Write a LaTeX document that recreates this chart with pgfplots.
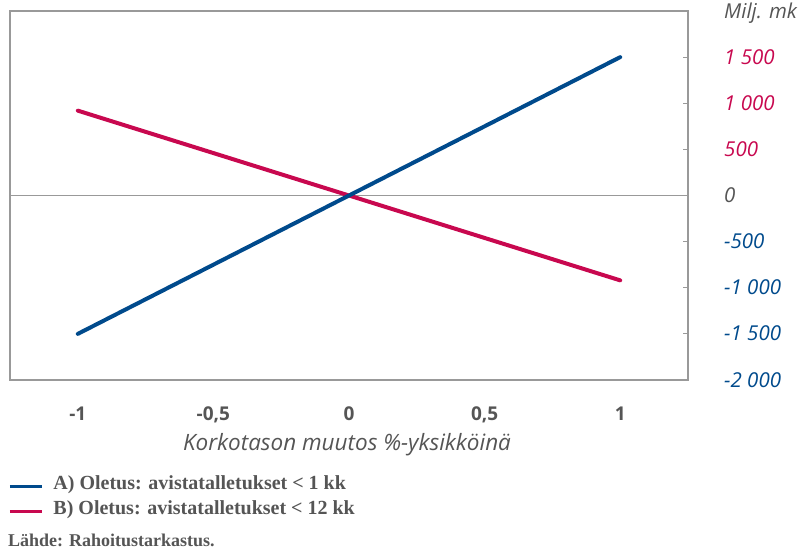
\documentclass[border=0pt]{standalone}
\usepackage{fontspec}
\setmainfont{Liberation Serif}
\newfontfamily\osans{Open Sans}
\usepackage{pgfplots}
\pgfplotsset{compat=1.18}
\definecolor{bfblue}{HTML}{004A8C}
\definecolor{bfred}{HTML}{C8084F}
\definecolor{txtgray}{HTML}{555555}
\definecolor{axgray}{HTML}{999999}
\begin{document}
\begin{tikzpicture}[x=1pt,y=1pt]
\useasboundingbox (0,0) rectangle (806,550);
\begin{axis}[
  at={(10pt,170pt)}, anchor=south west,
  scale only axis, width=678pt, height=369pt,
  xmin=-1.25, xmax=1.25, ymin=-2000, ymax=2000,
  axis line style={axgray, line width=1.2pt},
  xtick={-1,-0.5,0,0.5,1},
  xticklabels={-1,{-0,5},0,{0,5},1},
  xtick style={draw=none},
  xticklabel style={font=\osans\bfseries\fontsize{19}{19}\selectfont, text=txtgray, anchor=base, inner sep=0pt, yshift=-40pt},
  ytick={-2000,-1500,-1000,-500,0,500,1000,1500,2000},
  yticklabels={\textcolor{bfblue}{-2 000},\textcolor{bfblue}{-1 500},\textcolor{bfblue}{-1 000},\textcolor{bfblue}{-500},\textcolor{txtgray}{0},\textcolor{bfred}{500},\textcolor{bfred}{1 000},\textcolor{bfred}{1 500},\textcolor{txtgray}{Milj. mk}},
  ytick pos=right, yticklabel pos=right,
  tick align=inside, major tick length=5pt,
  ytick style={axgray, line width=1pt},
  yticklabel style={font=\osans\itshape\fontsize{20.5}{20.5}\selectfont, anchor=base west, inner sep=0pt, xshift=36pt, yshift=-7pt},
  legend style={at={(axis description cs:-0.003,-0.2575)}, anchor=north west, draw=none, fill=none, inner sep=0pt,
    font=\bfseries\fontsize{20}{20}\selectfont, text=txtgray, row sep=6pt,
    nodes={inner sep=0pt, text height=14pt, text depth=5pt},
    /tikz/every odd column/.append style={column sep=10pt}},
  legend cell align=left,
  legend image code/.code={\draw[#1, line width=3.3pt] (0pt,-2pt) -- (32pt,-2pt);},
]
\addlegendimage{bfblue}
\addlegendentry{A) Oletus: avistatalletukset < 1 kk}
\addlegendimage{bfred}
\addlegendentry{B) Oletus: avistatalletukset < 12 kk}
\addplot[axgray, line width=1pt, forget plot] coordinates {(-1.25,0) (1.25,0)};
\addplot[bfred, line width=4pt, line cap=round, forget plot] coordinates {(-1,920) (1,-920)};
\addplot[bfblue, line width=4pt, line cap=round, forget plot] coordinates {(-1,-1500) (1,1500)};
\end{axis}
\node[anchor=base, font=\osans\itshape\fontsize{22.5}{22.5}\selectfont, text=txtgray, inner sep=0pt] at (347,100) {Korkotason muutos \%-yksikköinä};
\node[anchor=base west, font=\bfseries\fontsize{18}{18}\selectfont, text=txtgray, inner sep=0pt] at (8,4) {Lähde: Rahoitustarkastus.};
\end{tikzpicture}
\end{document}
